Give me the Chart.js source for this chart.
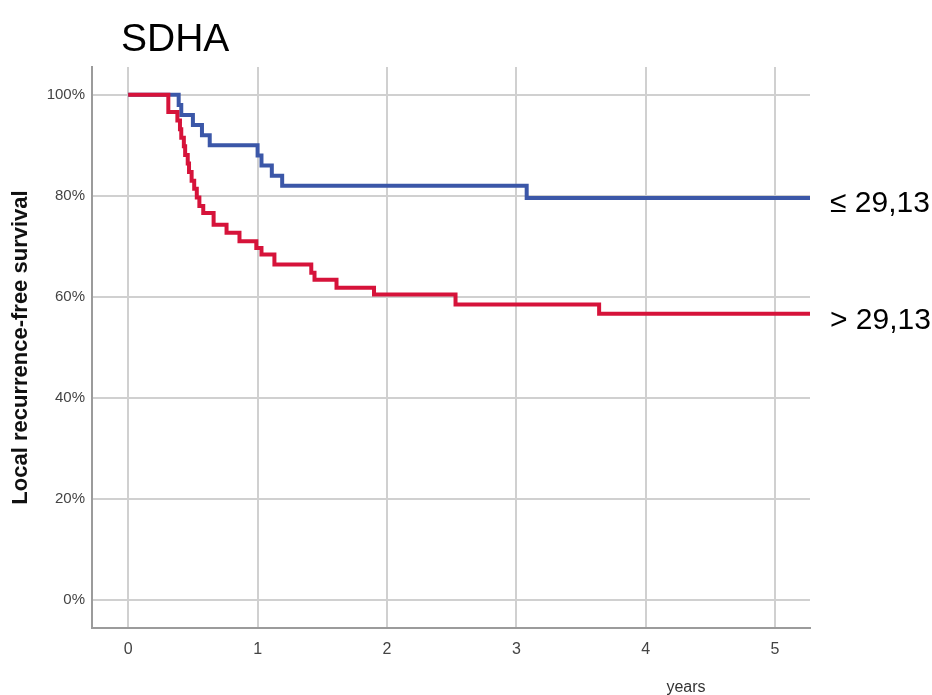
<!DOCTYPE html>
<html>
<head>
<meta charset="utf-8">
<script src="https://cdn.jsdelivr.net/npm/chart.js@4.4.1/dist/chart.umd.min.js"></script>
<style>
  html, body { margin: 0; padding: 0; background: #ffffff; }
  #wrap { width: 932px; height: 695px; }
</style>
</head>
<body>
<div id="wrap"><canvas id="km" width="932" height="695"></canvas></div>
<script>
// Kaplan-Meier step data: times (years) at which survival changes, and survival (%) after each step
const lowTimes = [0, 0.39, 0.41, 0.50, 0.57, 0.63, 1.00, 1.03, 1.11, 1.19, 3.08, 5.27];
const lowSurv  = [100, 98, 96, 94, 92, 90, 88, 86, 84, 82, 79.6, 79.6];

const highTimes = [0, 0.31, 0.38, 0.40, 0.41, 0.43, 0.44, 0.46, 0.47, 0.49, 0.51, 0.53, 0.55, 0.58,
                   0.66, 0.76, 0.86, 0.99, 1.03, 1.13, 1.415, 1.44, 1.61, 1.90, 2.53, 3.64, 5.27];
const highSurv  = [100, 96.6, 94.9, 93.2, 91.5, 89.8, 88.1, 86.4, 84.7, 83.0, 81.4, 79.7, 78.0, 76.6,
                   74.3, 72.7, 71.0, 69.7, 68.4, 66.4, 64.8, 63.4, 61.8, 60.5, 58.5, 56.7, 56.7];

const groupLabels = ['≤ 29,13', '> 29,13'];
const xTicks = [0, 1, 2, 3, 4, 5];
const yTicks = [0, 20, 40, 60, 80, 100];
const chartTitle = 'SDHA';
const yTitle = 'Local recurrence-free survival';
const xTitle = 'years';

const toPoints = (ts, ss) => ts.map((t, i) => ({ x: t, y: ss[i] }));

const BLUE = '#3b57a8';
const RED = '#d6133a';
const FONT = "'Liberation Sans', Arial, Helvetica, sans-serif";

// Titles, axis captions and the group labels at the right end of each curve
const textPlugin = {
  id: 'kmText',
  afterDraw(chart) {
    const ctx = chart.ctx;
    const area = chart.chartArea;
    const ys = chart.scales.y;
    ctx.save();

    ctx.fillStyle = '#000000';
    ctx.font = '39px ' + FONT;
    ctx.textAlign = 'left';
    ctx.textBaseline = 'alphabetic';
    ctx.fillText(chartTitle, 121, 51);

    ctx.save();
    ctx.translate(21, (area.top + area.bottom) / 2);
    ctx.rotate(-Math.PI / 2);
    ctx.font = 'bold 22px ' + FONT;
    ctx.textAlign = 'center';
    ctx.textBaseline = 'middle';
    ctx.fillStyle = '#111111';
    ctx.fillText(yTitle, 0, 0);
    ctx.restore();

    ctx.font = '16px ' + FONT;
    ctx.fillStyle = '#333333';
    ctx.textAlign = 'center';
    ctx.textBaseline = 'middle';
    ctx.fillText(xTitle, 686, 688);

    ctx.font = '30px ' + FONT;
    ctx.fillStyle = '#000000';
    ctx.textAlign = 'left';
    ctx.textBaseline = 'middle';
    ctx.fillText(groupLabels[0], area.right + 20, ys.getPixelForValue(lowSurv[lowSurv.length - 1]) + 6);
    ctx.fillText(groupLabels[1], area.right + 20, ys.getPixelForValue(highSurv[highSurv.length - 1]) + 7);
    ctx.restore();
  }
};

new Chart(document.getElementById('km'), {
  type: 'line',
  data: {
    datasets: [
      {
        label: groupLabels[1],
        data: toPoints(highTimes, highSurv),
        borderColor: RED,
        borderWidth: 4,
        stepped: 'before',
        pointRadius: 0,
        fill: false,
        borderJoinStyle: 'miter',
        borderCapStyle: 'butt'
      },
      {
        label: groupLabels[0],
        data: toPoints(lowTimes, lowSurv),
        borderColor: BLUE,
        borderWidth: 4,
        stepped: 'before',
        pointRadius: 0,
        fill: false,
        borderJoinStyle: 'miter',
        borderCapStyle: 'butt'
      }
    ]
  },
  options: {
    responsive: false,
    animation: false,
    events: [],
    layout: { padding: { top: 67, right: 122, left: 0, bottom: 0 } },
    plugins: { legend: { display: false }, tooltip: { enabled: false }, title: { display: false } },
    scales: {
      x: {
        type: 'linear',
        min: -0.28,
        max: 5.27,
        afterBuildTicks(scale) { scale.ticks = xTicks.map(v => ({ value: v })); },
        afterFit(scale) { scale.height = 67; },
        ticks: { color: '#444444', font: { family: FONT, size: 16 }, padding: 12, maxRotation: 0, autoSkip: false },
        grid: { color: '#d0d0d0', lineWidth: 2, drawTicks: false },
        border: { display: true, color: '#9b9b9b', width: 2 }
      },
      y: {
        type: 'linear',
        min: -5.5,
        max: 105.5,
        afterBuildTicks(scale) { scale.ticks = yTicks.map(v => ({ value: v })); },
        afterFit(scale) { scale.width = 92; },
        ticks: { color: '#444444', font: { family: FONT, size: 15 }, padding: 7, callback: v => v + '%' },
        grid: { color: '#d0d0d0', lineWidth: 2, drawTicks: false },
        border: { display: true, color: '#9b9b9b', width: 2 }
      }
    }
  },
  plugins: [textPlugin]
});
</script>
</body>
</html>
